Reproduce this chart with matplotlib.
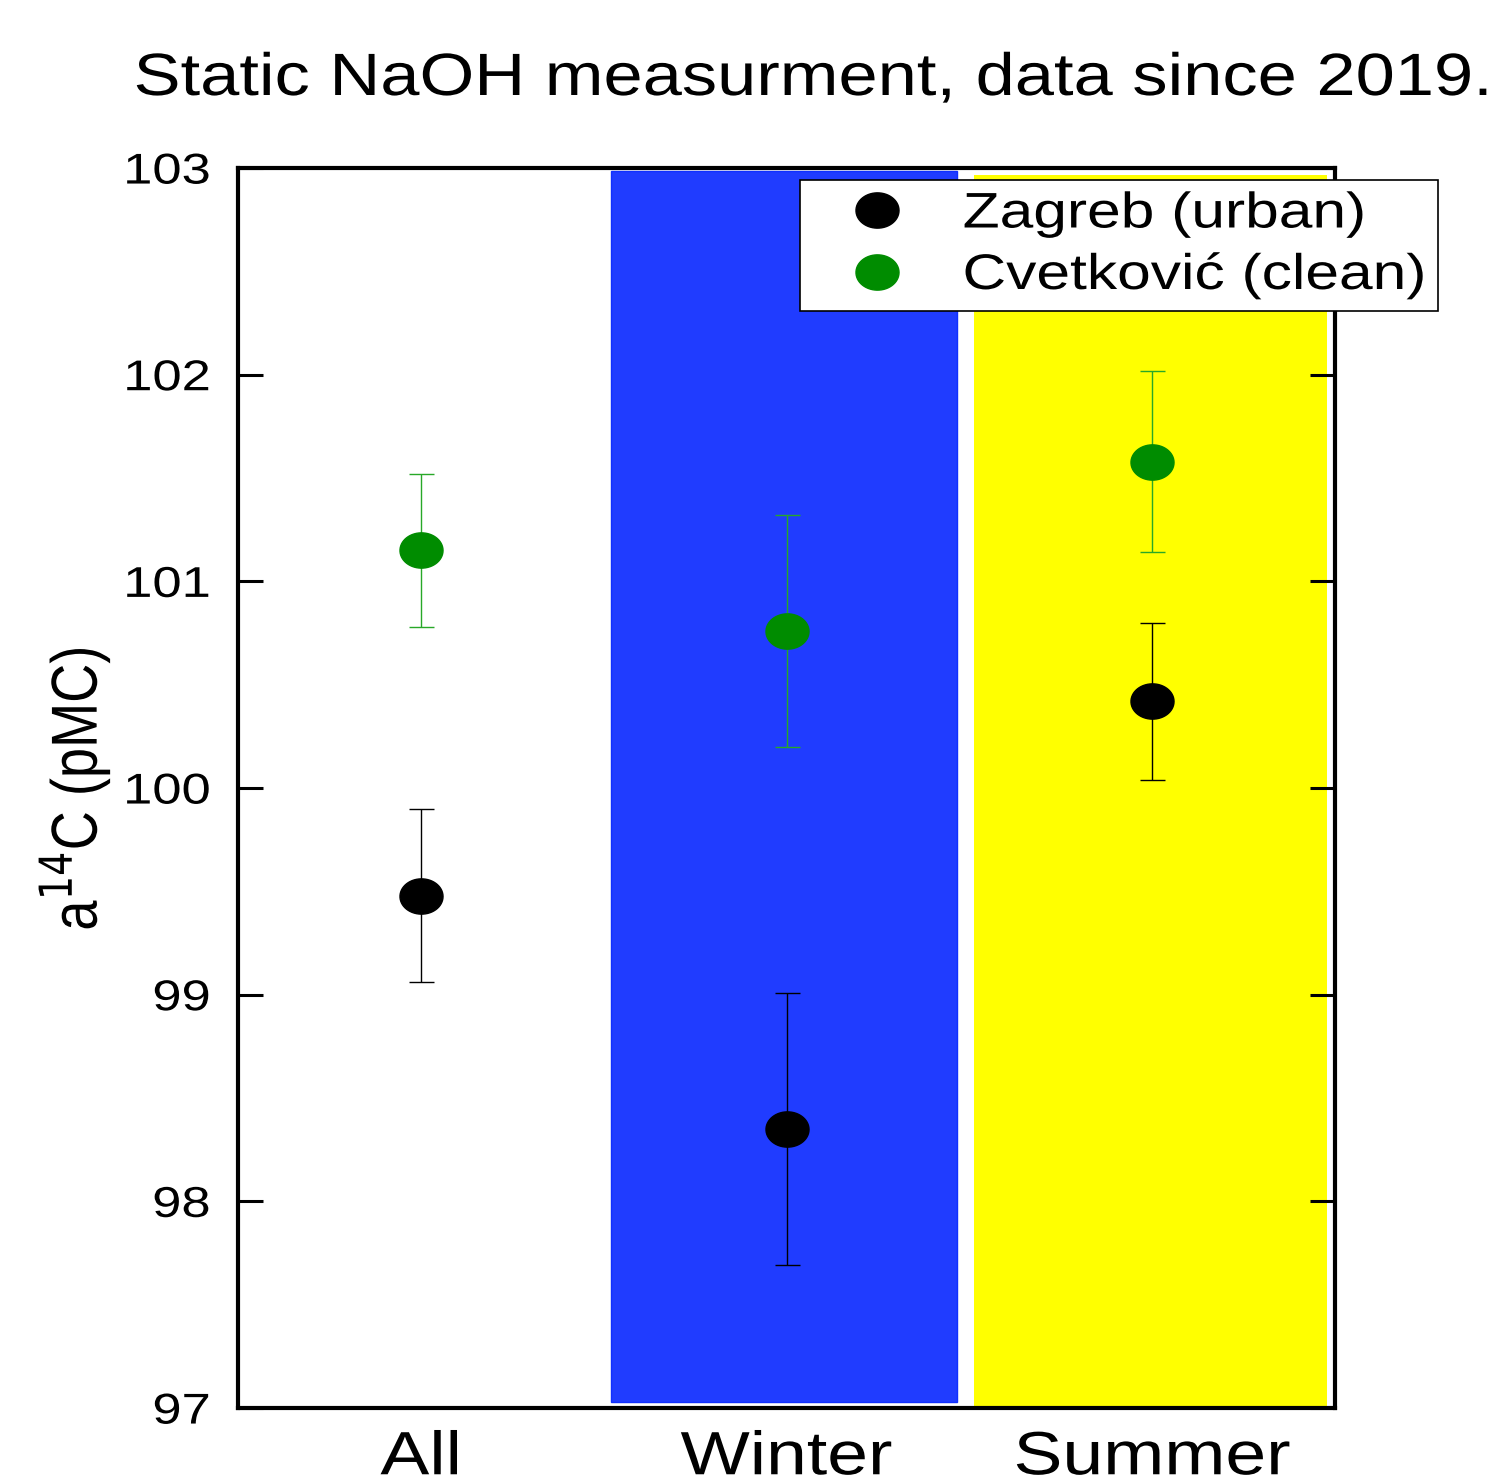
import numpy as np
import matplotlib.pyplot as plt
import matplotlib.patheffects as pe
from matplotlib.path import Path
from matplotlib.lines import Line2D
from matplotlib.transforms import Affine2D

plt.rcParams['font.family'] = ['Liberation Sans', 'DejaVu Sans']

# seasons and mean a14C values with their uncertainties
seasons = ['All', 'Winter', 'Summer']
zagreb = [99.48, 98.35, 100.42]
zagreb_err = [0.42, 0.66, 0.38]
cvet = [101.15, 100.76, 101.58]
cvet_err = [0.37, 0.56, 0.44]


class Widen(pe.AbstractPathEffect):
    """Draw text wider than the font, keeping one edge (or the centre) fixed."""
    def __init__(self, sx=1.2, anchor='center'):
        super().__init__()
        self.sx = sx
        self.anchor = anchor

    def draw_path(self, renderer, gc, tpath, affine, rgbFace=None):
        ext = tpath.get_extents(affine)
        if self.anchor == 'left':
            x0 = ext.x0
        elif self.anchor == 'right':
            x0 = ext.x1
        else:
            x0 = 0.5*(ext.x0 + ext.x1)
        aff = affine + Affine2D().translate(-x0, 0).scale(self.sx, 1).translate(x0, 0)
        renderer.draw_path(gc, tpath, aff, rgbFace)


# slightly wide ellipse used as the point marker
t = np.linspace(0, 2*np.pi, 60)
ellipse = Path(np.column_stack([1.22*np.cos(t), np.sin(t)]), closed=True)

fig = plt.figure(figsize=(15.06, 14.82), dpi=100)
ax = fig.add_axes([0.158, 0.0499, 0.7285, 0.8367])

x = np.arange(len(seasons))

# season backgrounds
ax.axvspan(0.519, 1.467, ymin=0.005, ymax=0.9975, facecolor='#203cff',
           edgecolor='#1030ff', linewidth=1, zorder=0)
ax.axvspan(1.514, 2.478, ymin=0.0, ymax=0.994, facecolor='#ffff00',
           edgecolor='none', zorder=0)

ax.errorbar(x, zagreb, yerr=zagreb_err, fmt='none', ecolor='black',
            elinewidth=1.0, capsize=9, capthick=1.0, zorder=2)
ax.errorbar(x, cvet, yerr=cvet_err, fmt='none', ecolor='#28a828',
            elinewidth=1.0, capsize=9, capthick=1.0, zorder=2)
ax.plot(x, zagreb, linestyle='none', marker=ellipse, markersize=31,
        color='black', zorder=3)
ax.plot(x, cvet, linestyle='none', marker=ellipse, markersize=31,
        color='#008c00', zorder=3)

ax.set_xlim(-0.5, 2.5)
ax.set_ylim(97, 103)
ax.set_yticks([97, 98, 99, 100, 101, 102, 103])
ax.set_xticks(x)
ax.set_xticklabels(seasons, fontsize=44)
ax.tick_params(axis='x', length=0, pad=16)
ax.tick_params(axis='y', direction='in', length=18, width=2.2,
               labelsize=31, right=True, pad=20)
for lab in ax.get_xticklabels():
    lab.set_path_effects([Widen(1.2, 'center')])
for lab in ax.get_yticklabels():
    lab.set_path_effects([Widen(1.22, 'right')])
for s in ax.spines.values():
    s.set_linewidth(3)

fig.text(75/1506, 1 - 789/1482, 'a$^{14}$C (pMC)', fontsize=39, rotation=90,
         ha='center', va='center', path_effects=[Widen(1.2, 'center')])
fig.text(0.5402, 1 - 95/1482, 'Static NaOH measurment, data since 2019.',
         fontsize=43, ha='center', va='baseline',
         path_effects=[Widen(1.18, 'center')])

handles = [Line2D([], [], linestyle='none', marker=ellipse, markersize=31, color='black'),
           Line2D([], [], linestyle='none', marker=ellipse, markersize=31, color='#008c00')]
leg = fig.legend(handles, ['Zagreb (urban)', 'Cvetković (clean)'],
                 loc='upper left', mode='expand',
                 bbox_to_anchor=(800/1506, 1 - 311/1482, 638/1506, 131/1482),
                 fontsize=36, fancybox=False, framealpha=1, edgecolor='black',
                 borderaxespad=0, borderpad=0.23, handlelength=2.62,
                 handletextpad=0.41, labelspacing=0.28)
leg.get_frame().set_linewidth(1.2)
for txt in leg.get_texts():
    txt.set_path_effects([Widen(1.21, 'left')])

fig.savefig('out.png', dpi=100)
